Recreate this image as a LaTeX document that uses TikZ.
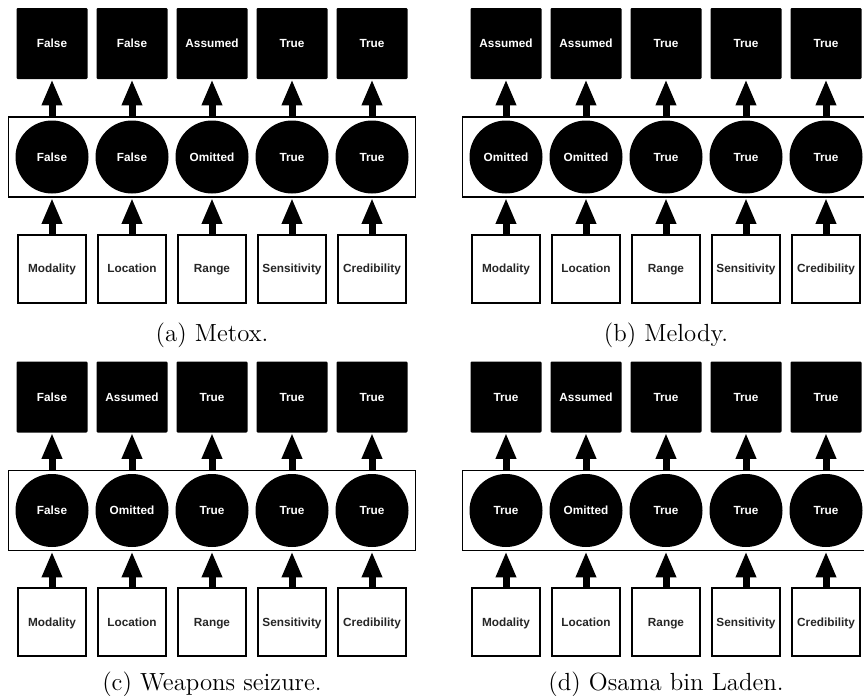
\documentclass[tikz,border=0pt]{standalone}
\usepackage{fontspec}
\setsansfont{Liberation Sans}
\usetikzlibrary{arrows.meta}
\tikzset{
  lbl/.style={font=\sffamily\bfseries\fontsize{5.9}{7}\selectfont, text height=5.4pt, text depth=1.2pt},
  topbox/.style={lbl, rectangle, fill=black, text=white, inner sep=0pt, minimum size=35.5pt, rounded corners=0.6pt},
  midcirc/.style={lbl, circle, fill=black, text=white, inner sep=0pt, minimum size=36.5pt},
  botbox/.style={lbl, rectangle, draw=black, line width=1pt, fill=white, text=black!85, inner sep=0pt, minimum size=34pt},
  frame/.style={rectangle, draw=black, line width=0.95pt, inner sep=0pt, minimum width=203.5pt, minimum height=40pt},
  arr/.style={line width=3.5pt, -{Triangle[width=9.5pt,length=13pt]}},
  captext/.style={font=\fontsize{12.4}{14}\selectfont, anchor=base, inner sep=0pt}
}
\newcommand\drawpanel[7]{%
  \begin{scope}[shift={(#2,#3)}]
    \node[frame] (#1R) at (212,157) {};
    \foreach \t [count=\i] in {#4} {
      \node[topbox] (#1s\i) at ({52+80*(\i-1)},43.5) {\t};
    }
    \foreach \t [count=\i] in {#5} {
      \node[midcirc] (#1c\i) at ({52+80*(\i-1)},157) {\t};
    }
    \foreach \t [count=\i] in {Modality,Location,Range,Sensitivity,Credibility} {
      \node[botbox] (#1b\i) at ({52+80*(\i-1)},268.7) {\t};
    }
    \foreach \i in {1,...,5} {
      \draw[arr] (#1c\i.north |- #1R.north) -- (#1s\i.south);
      \draw[arr] (#1b\i.north) -- (#1b\i.north |- #1R.south);
    }
    \node[captext] (#1cap) at (212,#7) {#6};
  \end{scope}
}
\begin{document}
\begin{tikzpicture}[x=0.5pt,y=-0.5pt]
\useasboundingbox[fill=white] (0,0) rectangle (864,696);
\drawpanel{a}{0}{0}{False,False,Assumed,True,True}{False,False,Omitted,True,True}{(a) Metox.}{341.7}
\drawpanel{b}{454}{0}{Assumed,Assumed,True,True,True}{Omitted,Omitted,True,True,True}{(b) Melody.}{341.7}
\drawpanel{c}{0}{353.5}{False,Assumed,True,True,True}{False,Omitted,True,True,True}{(c) Weapons seizure.}{336.5}
\drawpanel{d}{454}{353.5}{True,Assumed,True,True,True}{True,Omitted,True,True,True}{(d) Osama bin Laden.}{336.5}
\end{tikzpicture}
\end{document}
